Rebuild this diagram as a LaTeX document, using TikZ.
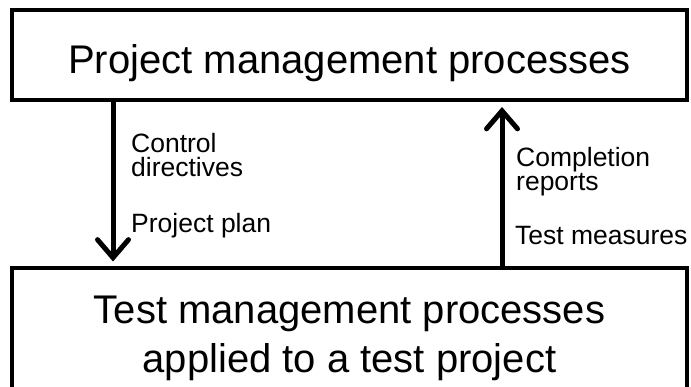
\documentclass[tikz,border=0pt]{standalone}
\usepackage{fontspec}
\setmainfont{Liberation Sans}
\usetikzlibrary{arrows.meta}

\tikzset{
  procbox/.style={draw, line width=4pt, minimum width=675pt, inner sep=0pt,
    align=center, font=\fontsize{40}{49}\selectfont},
  flow/.style={line width=5pt, -{Straight Barb[length=18pt,width=31pt,line cap=round]}},
  lbl/.style={anchor=base west, inner sep=0pt, align=left,
    font=\fontsize{26.5}{24}\selectfont}
}

\begin{document}
\begin{tikzpicture}[x=1pt,y=-1pt]

    \clip (0,0) rectangle (691,387);

    %boxes
    \node[procbox, minimum height=90pt, text height=46.5pt, text depth=8.5pt] (pm) at (349.5,55) {Project management processes};
    \node[procbox, minimum height=140pt] (tm) at (349.5,338.5) {Test management processes\\applied to a test project};

    %down: plan
    \draw[flow, shorten >=5pt] ([xshift=-236.5pt]pm.south) -- ([xshift=-236.5pt]tm.north);
    %up: reports
    \draw[flow, shorten >=5pt] ([xshift=152.5pt]tm.north) -- ([xshift=152.5pt]pm.south);

    %labels (base = last line)
    \node[lbl] (ctrl) at (131,177) {Control\\directives};
    \node[lbl] (plan) at (131,233) {Project plan};
    \node[lbl] (compl) at (516,191) {Completion\\reports};
    \node[lbl] (meas) at (515,245) {Test measures};

  \end{tikzpicture}
\end{document}
